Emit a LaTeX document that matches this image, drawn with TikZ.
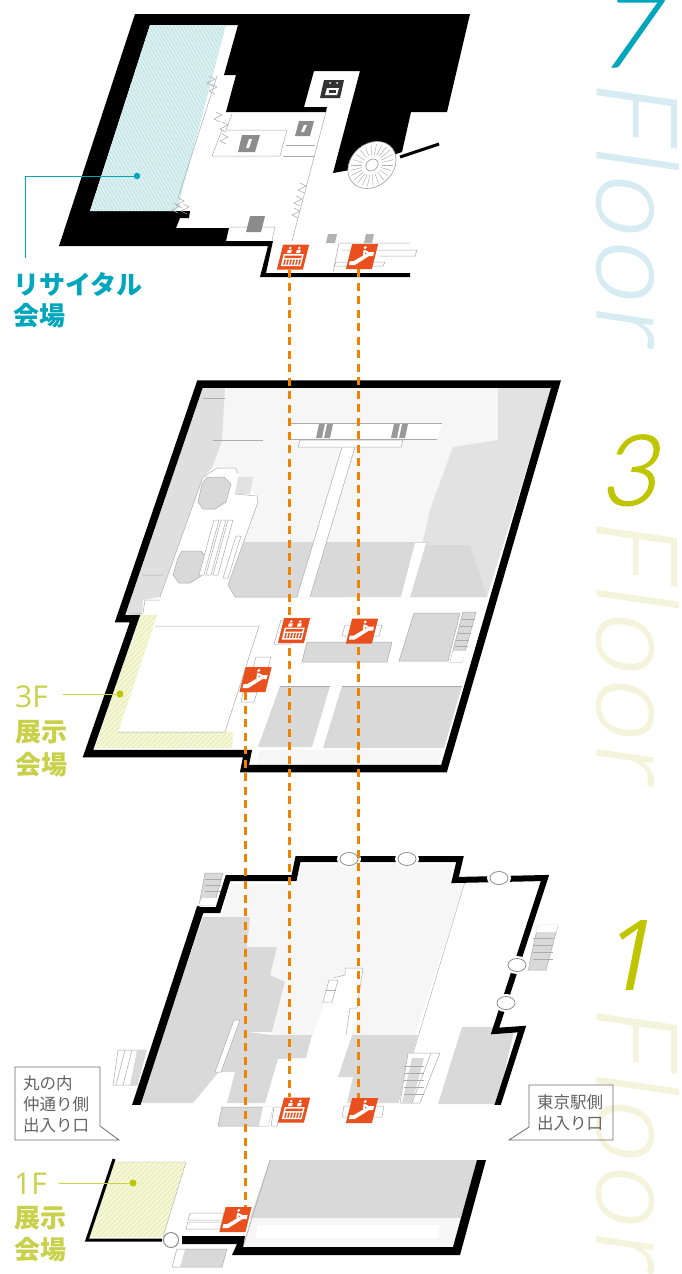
\documentclass[tikz,border=0pt]{standalone}
\usepackage{fontspec}
\usetikzlibrary{patterns.meta}
\newfontfamily\jpf{Noto Sans CJK JP}
\newfontfamily\latf[FakeBold=1,LetterSpace=3]{Lato Light}
\newfontfamily\latd[FakeBold=1.5]{Lato Light}
\newfontfamily\ops{Open Sans}
\definecolor{teal7}{HTML}{00A6BC}
\definecolor{tint7}{HTML}{D6ECF2}
\definecolor{grnum}{HTML}{BFC600}
\definecolor{grlab}{HTML}{C9D04A}
\definecolor{tint3}{HTML}{F3F4DB}
\definecolor{iconor}{HTML}{E9501E}
\definecolor{dashor}{HTML}{EF8200}
\definecolor{gA}{HTML}{D9D9D9}
\definecolor{gB}{HTML}{E2E2E2}
\definecolor{gC}{HTML}{F6F6F6}
\definecolor{ln}{HTML}{ABABAB}
\definecolor{hatchT}{HTML}{DDF1F1}
\definecolor{hatchTl}{HTML}{BCE2E5}
\definecolor{hatchG}{HTML}{EDF1BE}
\pgfdeclarelayer{walls}
\pgfdeclarelayer{links}
\pgfsetlayers{walls,links,main}
\tikzset{
  iconbase/.style={fill=iconor,minimum width=26pt,minimum height=25pt,inner sep=0pt,xslant=.25,transform shape},
  linkdash/.style={dashor,line width=3.2pt,dash pattern=on 8pt off 5.5pt},
  room/.style={draw=ln,line width=.5pt},
  floorword/.style={font=\latf\fontsize{112}{112}\selectfont,cm={0,-1,1,-0.146,(0,0)},transform shape,anchor=base west,inner sep=0pt},
  digit/.style={font=\latd\fontsize{98}{98}\selectfont,xslant=.2,transform shape,anchor=base,inner sep=0pt},
  digitone/.style={font=\ops\fontsize{98}{98}\selectfont,xslant=.2,transform shape,anchor=base,inner sep=0pt},
  hatchblue/.style={preaction={fill=hatchT},pattern={Lines[angle=-60,distance=3pt,line width=.8pt]},pattern color=hatchTl},
  hatchgreen/.style={preaction={fill=hatchG},pattern={Lines[angle=45,distance=3.5pt,line width=.7pt]},pattern color=white},
  jlabel/.style={font=\jpf\bfseries\fontsize{26}{26}\selectfont,anchor=west,inner sep=0pt},
  latlabel/.style={font=\ops\fontsize{30}{30}\selectfont,text=grlab,anchor=west,inner sep=0pt},
  jcall/.style={font=\jpf\fontsize{16.5}{16.5}\selectfont,text=black!62,anchor=west,inner sep=0pt},
  callbox/.style={draw=black!58,line width=.8pt},
  gdot/.style={circle,fill=grnum,inner sep=0pt,minimum size=7pt},
  tdot/.style={circle,fill=teal7,inner sep=0pt,minimum size=6.5pt},
  stairbox/.style={draw=ln,line width=.5pt,fill=gA},
  strip/.style={draw=ln,line width=.5pt,fill=white}
}
\newcommand{\evmarks}[1]{\begin{scope}[shift={(#1)},xslant=.25]
  \fill[white] (-5,-9) circle (1.4) (4,-9) circle (1.4);
  \fill[white] (-7,-7.2) rectangle (-3,-4) (2,-7.2) rectangle (6,-4);
  \fill[white] (-10,-3) rectangle (10,9);
  \fill[iconor] (-8.5,-1.5) rectangle (8.5,1);
  \foreach \q in {-8,-5,-2,1,4,7}{\fill[iconor] (\q,2.5) rectangle (\q+1.6,7.5);}
\end{scope}}
\newcommand{\escmarks}[1]{\begin{scope}[shift={(#1)},xslant=.25]
  \fill[white] (-11,4.5)--(-7,4.5)--(6,-4.5)--(11,-4.5)--(11,-.5)--(7,-.5)--(-5,8.5)--(-11,8.5)--cycle;
  \fill[white] (1,-9) circle (1.6);
  \draw[white,line width=2pt] (1,-6.5)--(1.5,-1) (1,-5.5)--(5,-4);
\end{scope}}
\begin{document}
\begin{tikzpicture}[x=1pt,y=-1pt]
\useasboundingbox (0,0) rectangle (681,1274);
\begin{pgfonlayer}{walls}
% ===== side titles =====
\node[floorword,text=tint7] (fl7) at (597,77) {Floor};
\node[floorword,text=tint3] (fl3) at (597,515) {Floor};
\node[floorword,text=tint3] (fl1) at (597,1002) {Floor};
\node[digit,text=teal7] (n7) at (627,67) {7};
\node[digit,text=grnum] (n3) at (628,505) {3};
\node[digitone,text=grnum] (n1) at (628,990) {1};
% ===== 7F =====
\fill[black] (135,14)--(470,14)--(447,112)--(411,112)--(402,152)--(350,170)--(333,173)--(360,71)--(314,71)--(304,107)--(327,107)--(326,112)--(226,112)--(236,75)--(224,75)--(238,25)--(150,25)--(90,211)--(190,211)--(189,218)--(180,218)--(176,228)--(229,228)--(226,241)--(273,241)--(266,273)--(410,273)--(410,277)--(260,277)--(268,246)--(59,246)--cycle;
\fill[hatchblue] (150,25)--(226,25)--(177,211)--(90,211)--cycle;
\draw[room] (217,76)--(178,198);
\draw[room] (327,108)--(292,241);
\draw[room] (232,114)--(226,130)--(287,130)--(280,156)--(212,156)--(222,130);
\draw[room] (286,145)--(315,145) (283,156)--(314,156);
\draw[room] (229,227)--(275,227)--(272,240);
\draw[room] (340,243)--(410,243) (342,250)--(417,250)--(415,256)--(379,256) (336,262)--(385,262)--(383,266)--(334,266)--cycle;
\draw[room] (339,243)--(333,272);
\foreach \a/\b in {209/76,211/84,216/112,222/122,222/134,178/198,174/203,183/204,300/183,296/196,294/208}{\draw[room] (\a,\b)--++(6,3)--++(-8,4)--++(6,3);}
\fill[black!45] (242,135)--(260,135)--(255,152)--(238,152)--cycle;
\fill[black!45] (299,121)--(314,121)--(310,136)--(295,136)--cycle;
\fill[black!45] (250,216)--(265,216)--(261,232)--(246,232)--cycle;
\fill[white] (249,139)--(252,139)--(249,148)--(246,148)--cycle (304,125)--(307,125)--(304,132)--(301,132)--cycle;
\fill[black!30] (328,234)--(337,234)--(335,243)--(326,243)--cycle;
\fill[black!30] (366,234)--(374,234)--(372,243)--(364,243)--cycle;
\fill[black!80] (324,80)--(344,80)--(340,98)--(320,98)--cycle;
\fill[white] (330,83) circle (1) (337,83) circle (1);
\fill[white] (327,88)--(339,88)--(337,95)--(325,95)--cycle;
\fill[black!80] (329,90) rectangle (336,93);
\draw[black,line width=3pt] (400,157)--(439,144);
\begin{scope}[shift={(372,165)},xslant=.22]
  \draw[fill=white,draw=black!35,line width=.7pt] (0,0) circle (23.5);
  \foreach \a in {0,15,...,345}{\draw[black!30,line width=.5pt] (\a:10)--(\a:21);}
  \draw[fill=white,draw=black!40,line width=.6pt] (0,0) circle (6);
\end{scope}
% ===== 3F =====
\fill[white] (200,384)--(556,384)--(444,768)--(245,768)--(248,753)--(88,753)--(135,618)--(120,618)--cycle;
\fill[gC] (222,387)--(500,387)--(500,440)--(454,447)--(428,543)--(410,597)--(235,597)--(228,585)--(258,497)--(235,470)--(212,468)--cycle;
\fill[gB!70!gA] (203,387)--(225,387)--(222,440)--(212,468)--(203,477)--(160,597)--(143,600)--(142,615)--(126,613)--cycle;
\fill[gB] (498,387)--(552,387)--(487,597)--(410,597)--(430,510)--(453,447)--(498,440)--cycle;
\fill[gA] (244,542)--(358,542)--(343,597)--(235,597)--(228,585)--cycle;
\fill[gA] (324,542)--(428,542)--(410,597)--(312,597)--cycle;
\fill[gA] (426,545)--(470,545)--(487,597)--(410,597)--cycle;
% corridors
\fill[white] (342,447)--(355,447)--(310,597)--(297,597)--cycle;
\draw[room] (342,447)--(297,597) (355,447)--(310,597);
\fill[white] (415,543)--(426,543)--(410,597)--(401,597)--cycle;
\fill[white] (290,423)--(442,423)--(437,439)--(290,439)--cycle;
\draw[room] (290,423)--(442,423) (290,439)--(437,439);
\draw[room,fill=white] (300,440)--(403,440)--(401,447)--(298,447)--cycle;
\fill[black!40] (319,424)--(333,424)--(330,438)--(316,438)--cycle;
\fill[black!40] (394,424)--(408,424)--(405,438)--(391,438)--cycle;
\fill[white] (325,424)--(327,424)--(324,438)--(322,438)--cycle (400,424)--(402,424)--(399,438)--(397,438)--cycle;
% hall at left
\fill[white] (203,477)--(217,468)--(235,468)--(238,473)--(235,494)--(257,496)--(258,502)--(228,585)--(235,597)--(160,597)--cycle;
\draw[room] (160,597)--(203,477)--(217,468)--(235,468)--(238,473) (235,494)--(257,496)--(258,502)--(228,585)--(235,597)--(297,597);
\fill[gB] (238,477)--(253,477)--(250,494)--(235,494)--cycle;
\draw[stairbox] (207,477)--(224,477)--(231,484)--(226,502)--(215,509)--(203,509)--(198,502)--(202,484)--cycle;
\draw[stairbox] (182,551)--(201,551)--(207,558)--(201,576)--(190,583)--(179,583)--(173,575)--(178,558)--cycle;
\foreach \a in {0,7,14}{\draw[strip] (214+\a,520)--(219+\a,520)--(204+\a,575)--(199+\a,575)--cycle;}
\draw[strip] (236,536)--(241,536)--(228,578)--(223,578)--cycle;
\draw[room] (203,398)--(225,398) (213,440)--(263,440);
\draw[room] (142,575)--(163,575) (128,613)--(143,613)--(145,600)--(160,600);
% lower half
\fill[white] (138,615)--(480,598)--(444,768)--(245,768)--(248,753)--(88,753)--cycle;
\fill[hatchgreen] (138,615)--(157,615)--(118,732)--(233,732)--(232,748)--(95,748)--cycle;
\draw[room] (155,626)--(259,626)--(225,732)--(118,732);
\draw[room,fill=gA] (307,642)--(392,642)--(387,662)--(302,662)--cycle;
\draw[room,fill=gA] (414,613)--(460,613)--(448,661)--(399,661)--cycle;
\draw[stairbox] (463,612)--(476,612)--(462,662)--(450,662)--cycle;
\fill[white] (453,651)--(466,651)--(462,662)--(450,662)--cycle;
\foreach \u/\w in {462/619,460/626,458/633,456/640,455/646}{\draw[room] (\u,\w)--++(13,0);}
\fill[gA] (280,686)--(330,686)--(312,747)--(258,747)--cycle;
\fill[gA] (342,686)--(462,686)--(444,748)--(323,748)--cycle;
\draw[ln,line width=.5pt] (280,686)--(330,686) (342,686)--(462,686);
\fill[gC] (260,750)--(442,750)--(438,766)--(256,766)--cycle;
\draw[strip] (281,620)--(297,620)--(291,644)--(274,644)--cycle;
\draw[strip] (345,625)--(382,625)--(379,636)--(342,636)--cycle;
\draw[strip] (256,657)--(271,657)--(268,668)--(253,668)--cycle;
\draw[strip] (243,692)--(257,692)--(254,702)--(241,702)--cycle;
% 3F wall
\draw[black,line width=7.5pt,miter limit=10] (200,384)--(556,384)--(444,768.5)--(244.5,768.5)--(247.5,753.5)--(88,753.5)--(135,618.5)--(120,618.5)--cycle;
% ===== 1F main =====
\fill[gC] (230,884)--(296,884)--(300,864)--(452,864)--(450,882)--(465,882)--(415,1035)--(272,1035)--(285,982)--(270,975)--(277,947)--(247,947)--(250,917)--(222,917)--cycle;
\draw[ln,line width=.4pt] (465,882)--(398,1103);
\fill[white] (323,1007)--(333,978)--(345,975)--(345,968)--(363,968)--(358,1008)--(352,1035)--(313,1035)--cycle;
\draw[room] (333,978)--(345,975)--(345,968)--(363,968)--(357,1008)--(350,1008)--(346,1035);
\draw[strip] (329,980)--(338,980)--(332,1002)--(323,1002)--cycle;
\draw[room] (326,990)--(336,990);
\fill[gA] (203,917)--(250,917)--(247,947)--(277,947)--(270,975)--(285,982)--(272,1032)--(248,1032)--(218,1073)--(193,1103)--(140,1103)--cycle;
\fill[gA] (272,1035)--(312,1035)--(306,1058)--(278,1059)--(265,1103)--(227,1103)--(235,1072)--(218,1072)--(248,1032)--cycle;
\fill[gA] (352,1035)--(418,1035)--(398,1103)--(347,1103)--(353,1077)--(338,1077)--cycle;
\draw[strip] (234,1020)--(240,1020)--(221,1072)--(215,1072)--cycle;
\fill[gA] (462,1027)--(515,1027)--(497,1104)--(438,1104)--cycle;
\draw[stairbox] (205,873)--(223,873)--(214,905)--(199,905)--cycle;
\fill[white] (202,898)--(218,898)--(214,905)--(199,905)--cycle;
\foreach \u in {879,885,891}{\draw[room] (205,\u)--(221,\u);}
\draw[stairbox] (538,925)--(558,925)--(546,970)--(528,970)--cycle;
\fill[white] (538,925)--(558,925)--(556,932)--(536,932)--cycle;
\foreach \u in {938,945,952,959}{\draw[room] (533,\u)--(553,\u);}
\draw[strip] (118,1050)--(146,1050)--(137,1085)--(113,1085)--cycle;
\draw[room] (125,1050)--(116,1085) (132,1050)--(123,1085);
\fill[gA] (137,1050)--(147,1050)--(137,1085)--(130,1085)--cycle;
\draw[strip] (408,1053)--(440,1053)--(420,1103)--(400,1103)--cycle;
\fill[gA] (412,1058)--(424,1058)--(412,1103)--(402,1103)--cycle;
\draw[room] (431,1053)--(412,1103);
\foreach \u in {1066,1073,1080,1087,1094}{\draw[room] (404,\u)--(424,\u);}
\draw[stairbox] (222,1107)--(273,1107)--(268,1126)--(218,1126)--cycle;
\fill[white] (263,1107)--(273,1107)--(268,1126)--(259,1126)--cycle;
\draw[strip] (274,1107)--(282,1107)--(277,1126)--(271,1126)--cycle;
\draw[strip] (344,1106)--(384,1106)--(382,1117)--(342,1117)--cycle;
% 1F wall
\begin{scope}
\clip (0,800) rectangle (681,1104);
\draw[black,line width=6pt,miter limit=10] (200,910)--(218,910)--(228,878)--(294,878)--(298,859)--(460,859)--(455,880)--(545,878)--(495,1031)--(522,1029)--(496,1110);
\draw[black,line width=8pt] (134,1112)--(201,907);
\end{scope}
\foreach \a/\b in {349/859,407/859,499/878,517/965,506/1003}{
  \fill[white] (\a,\b) ellipse [x radius=12,y radius=9];
  \draw[black!45,fill=white,line width=.8pt] (\a,\b) ellipse [x radius=9,y radius=6.5];
}
% ===== 1F lower =====
\fill[hatchgreen] (113,1162)--(186,1162)--(163,1237)--(90,1237)--cycle;
\draw[ln,line width=.4pt] (113,1162)--(186,1162)--(163,1237);
\draw[black,line width=3pt] (114,1159)--(87,1240)--(162,1240);
\fill[gA] (270,1160)--(478,1160)--(465,1218)--(250,1218)--cycle;
\fill[gC] (250,1218)--(465,1218)--(455,1247)--(243,1247)--cycle;
\fill[white] (258,1225)--(440,1225)--(438,1238)--(255,1238)--cycle;
\draw[ln,line width=.6pt] (270,1160)--(243,1247);
\fill[black] (182,1236)--(245,1236)--(243,1247)--(453,1247)--(477,1160)--(486,1160)--(460,1255)--(232,1255)--(237,1244)--(182,1244)--cycle;
\draw[black!45,fill=white,line width=1pt] (171,1240) circle (7.5);
\draw[strip] (190,1213)--(224,1213)--(222,1220)--(188,1220)--cycle;
\draw[strip] (188,1222)--(222,1222)--(220,1229)--(186,1229)--cycle;
\draw[stairbox] (177,1249)--(227,1249)--(222,1267)--(172,1267)--cycle;
\fill[white] (177.5,1249.5)--(185,1249.5)--(180,1266.5)--(172.5,1266.5)--cycle;
\end{pgfonlayer}
% ===== icons =====
\node[iconbase] (ev7) at (293,257) {};
\evmarks{293,257}
\node[iconbase] (es7) at (362,256.5) {};
\escmarks{362,256.5}
\node[iconbase] (ev3) at (294,630.5) {};
\evmarks{294,630.5}
\node[iconbase] (es3) at (362,631) {};
\escmarks{362,631}
\node[iconbase] (es3b) at (255.5,679.5) {};
\escmarks{255.5,679.5}
\node[iconbase] (ev1) at (294,1110) {};
\evmarks{294,1110}
\node[iconbase] (es1) at (362,1110.5) {};
\escmarks{362,1110.5}
\node[iconbase] (es1b) at (235.5,1219.5) {};
\escmarks{235.5,1219.5}
% ===== connectors =====
\begin{pgfonlayer}{links}
\draw[linkdash] (ev7.south) -- (ev7.south |- ev1.north);
\draw[linkdash] (es7.south) -- (es7.south |- es1.north);
\coordinate (d3) at ([xshift=-7pt]es3b.south);
\draw[linkdash] (d3) -- (d3 |- es1b.north);
\end{pgfonlayer}
% ===== labels =====
\node[jlabel,text=teal7] (lr) at (13,284) {リサイタル};
\node[jlabel,text=teal7] (lk) at (13,316) {会場};
\node[tdot] (dot7) at (137,176) {};
\coordinate (lead7) at (25,258);
\draw[teal7,line width=.9pt] (dot7) -- (dot7 -| lead7) -- (lead7);
\node[latlabel] (l3) at (15,697) {3F};
\node[jlabel,text=grlab] (l3a) at (15,732) {展示};
\node[jlabel,text=grlab] (l3b) at (15,765) {会場};
\node[gdot] (dot3) at (120,694) {};
\coordinate (s3) at (63,694);
\draw[grlab,line width=1pt] (s3) -- (dot3);
\node[latlabel] (l1) at (14,1184) {1F};
\node[jlabel,text=grlab] (l1a) at (14,1218) {展示};
\node[jlabel,text=grlab] (l1b) at (14,1250) {会場};
\node[gdot] (dot1) at (133,1183) {};
\coordinate (s1) at (59,1183);
\draw[grlab,line width=1pt] (s1) -- (dot1);
% ===== callouts =====
\draw[callbox] (15,1067)--(100,1067)--(100,1126)--(119,1140)--(15,1140)--cycle;
\node[jcall] (c1) at (23,1083) {丸の内};
\node[jcall] (c2) at (23,1104) {仲通り側};
\node[jcall] (c3) at (23,1125) {出入り口};
\draw[callbox] (529,1085)--(613,1085)--(613,1140)--(509,1140)--(529,1127)--cycle;
\node[jcall] (c4) at (537,1102) {東京駅側};
\node[jcall] (c5) at (537,1123) {出入り口};
\end{tikzpicture}
\end{document}
